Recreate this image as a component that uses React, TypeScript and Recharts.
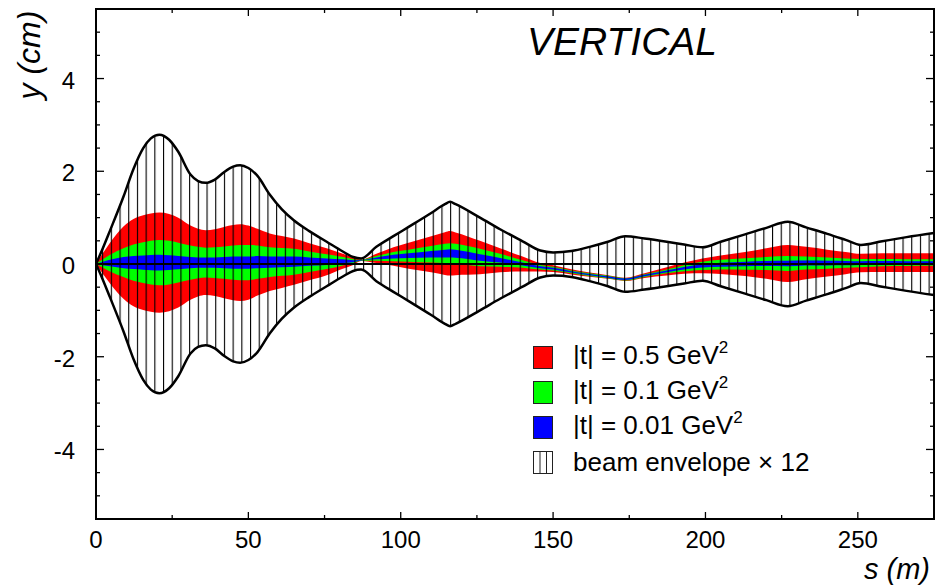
import React from "react";
import { AreaChart, Area, XAxis, YAxis, ReferenceLine, ReferenceArea, Legend, Customized } from "recharts";

const sPos = [
  0, 2, 4.6, 9, 12.3, 15.5, 18, 20.8, 24, 27, 31, 33.5, 36, 39, 42, 45, 47.3, 50, 53, 57,
  61, 65, 70, 75.7, 81, 84.4, 87, 92, 97.6, 102.6, 110, 114.5, 116.2, 118, 126, 132.6, 140,
  145.8, 150, 156, 162, 168, 173.7, 180, 187.3, 193, 199, 205, 213, 220, 227, 233, 240, 246,
  251, 258, 266, 275,
];

// beam envelope x 12, half width (cm)
const envelope = [
  0, 0.3, 0.72, 1.45, 2.05, 2.5, 2.71, 2.79, 2.68, 2.42, 1.93, 1.79, 1.75, 1.82, 1.98, 2.1, 2.13, 2.07, 1.9, 1.5,
  1.18, 0.94, 0.71, 0.48, 0.27, 0.15, 0.12, 0.37, 0.6, 0.8, 1.1, 1.29, 1.34, 1.29, 1.0, 0.75, 0.49,
  0.29, 0.25, 0.28, 0.37, 0.48, 0.6, 0.55, 0.48, 0.42, 0.36, 0.48, 0.64, 0.78, 0.91, 0.79, 0.65, 0.52,
  0.41, 0.49, 0.58, 0.67,
];

// centre of the |t| bands (cm)
const center = [
  0, 0.01, 0.02, 0.03, 0.03, 0.03, 0.03, 0.03, 0.03, 0.03, 0.03, 0.03, 0.03, 0.03, 0.03, 0.03, 0.03, 0.03, 0.04, 0.04,
  0.045, 0.05, 0.05, 0.05, 0.06, 0.06, 0.08, 0.12, 0.16, 0.18, 0.21, 0.225, 0.23, 0.22, 0.14, 0.08, 0.0,
  -0.07, -0.1, -0.17, -0.23, -0.28, -0.33, -0.25, -0.16, -0.09, -0.04, -0.015, 0.0, 0.01, 0.01, 0.02, 0.02, 0.02,
  0.02, 0.03, 0.03, 0.03,
];

// half widths (cm)
const redHalf = [
  0, 0.2, 0.44, 0.78, 0.94, 1.02, 1.06, 1.08, 1.05, 0.97, 0.8, 0.73, 0.7, 0.72, 0.77, 0.81, 0.83, 0.8, 0.72, 0.62,
  0.56, 0.5, 0.4, 0.29, 0.16, 0.08, 0.015, 0.1, 0.2, 0.28, 0.39, 0.46, 0.48, 0.46, 0.36, 0.26, 0.16,
  0.09, 0.075, 0.055, 0.045, 0.04, 0.035, 0.05, 0.09, 0.12, 0.16, 0.2, 0.26, 0.33, 0.4, 0.35, 0.29, 0.24,
  0.2, 0.2, 0.2, 0.2,
];
const greenHalf = [
  0, 0.08, 0.18, 0.31, 0.39, 0.44, 0.47, 0.49, 0.47, 0.43, 0.37, 0.34, 0.32, 0.33, 0.35, 0.37, 0.38, 0.38, 0.36, 0.32,
  0.3, 0.28, 0.22, 0.16, 0.09, 0.045, 0.01, 0.05, 0.1, 0.13, 0.18, 0.21, 0.22, 0.215, 0.19, 0.14, 0.08,
  0.05, 0.04, 0.03, 0.028, 0.026, 0.025, 0.028, 0.04, 0.065, 0.09, 0.105, 0.125, 0.14, 0.16, 0.14, 0.12, 0.1,
  0.09, 0.08, 0.075, 0.07,
];
const blueHalf = [
  0, 0.035, 0.07, 0.12, 0.14, 0.155, 0.165, 0.17, 0.16, 0.145, 0.12, 0.11, 0.11, 0.11, 0.12, 0.13, 0.13, 0.13, 0.13, 0.12,
  0.115, 0.11, 0.09, 0.07, 0.04, 0.02, 0.005, 0.02, 0.04, 0.05, 0.07, 0.085, 0.09, 0.085, 0.07, 0.05, 0.03,
  0.02, 0.018, 0.016, 0.015, 0.015, 0.015, 0.016, 0.02, 0.028, 0.036, 0.043, 0.05, 0.055, 0.06, 0.055, 0.05, 0.045,
  0.04, 0.035, 0.032, 0.03,
];

const xTicks = [0, 25, 50, 75, 100, 125, 150, 175, 200, 225, 250, 275];
const xLabels = [0, 50, 100, 150, 200, 250];
const yTicks = [-5, -4.5, -4, -3.5, -3, -2.5, -2, -1.5, -1, -0.5, 0, 0.5, 1, 1.5, 2, 2.5, 3, 3.5, 4, 4.5, 5];
const yLabels = [-4, -2, 0, 2, 4];

const legendItems = [
  { label: "|t| = 0.5 GeV", sup: "2", fill: "#ff0000" },
  { label: "|t| = 0.1 GeV", sup: "2", fill: "#00ff00" },
  { label: "|t| = 0.01 GeV", sup: "2", fill: "#0000ff" },
  { label: "beam envelope \u00d7 12", sup: "", fill: "hatch" },
];

const rows = sPos.map((s, i) => ({
  s,
  env: [-envelope[i], envelope[i]],
  red: [center[i] - redHalf[i], center[i] + redHalf[i]],
  green: [center[i] - greenHalf[i], center[i] + greenHalf[i]],
  blue: [center[i] - blueHalf[i], center[i] + blueHalf[i]],
}));

const FONT = "'Liberation Sans', Arial, Helvetica, sans-serif";
const TOP = 9;
const BOTTOM = 519;
const LEFT = 96;
const RIGHT = 934;

function XTick(props: any) {
  const { x, payload } = props;
  const major = xLabels.includes(payload.value);
  const len = major ? 7 : 4;
  return (
    <g>
      <line x1={x} x2={x} y1={BOTTOM} y2={BOTTOM - len} stroke="#000" strokeWidth={1.3} />
      <line x1={x} x2={x} y1={TOP} y2={TOP + len} stroke="#000" strokeWidth={1.3} />
      {major && (
        <text x={x} y={548} textAnchor="middle" fontSize={24} fontFamily={FONT} fill="#000">
          {payload.value}
        </text>
      )}
    </g>
  );
}

function YTick(props: any) {
  const { y, payload } = props;
  const major = yLabels.includes(payload.value);
  const len = major ? 8 : 4;
  return (
    <g>
      <line x1={LEFT} x2={LEFT + len} y1={y} y2={y} stroke="#000" strokeWidth={1.3} />
      <line x1={RIGHT} x2={RIGHT - len} y1={y} y2={y} stroke="#000" strokeWidth={1.3} />
      {major && (
        <text x={75} y={y + 10} textAnchor="end" fontSize={24} fontFamily={FONT} fill="#000">
          {payload.value}
        </text>
      )}
    </g>
  );
}

function LegendBox() {
  return (
    <div style={{ fontFamily: FONT, fontSize: 26, color: "#000" }}>
      {legendItems.map((it) => (
        <div key={it.label} style={{ display: "flex", alignItems: "center", height: 35 }}>
          {it.fill === "hatch" ? (
            <svg width={20} height={23} style={{ display: "block" }}>
              <rect x={0.5} y={0.5} width={19} height={22} fill="#fff" stroke="#222" />
              <line x1={7} x2={7} y1={0} y2={23} stroke="#222" />
              <line x1={13.5} x2={13.5} y1={0} y2={23} stroke="#222" />
            </svg>
          ) : (
            <div style={{ width: 20, height: 23, boxSizing: "border-box", border: "1px solid #222", background: it.fill }} />
          )}
          <span style={{ marginLeft: 20, lineHeight: "26px", whiteSpace: "nowrap" }}>
            {it.label}
            {it.sup && <span style={{ fontSize: 17, position: "relative", top: -11 }}>{it.sup}</span>}
          </span>
        </div>
      ))}
    </div>
  );
}

function Texts() {
  return (
    <g fontFamily={FONT} fill="#000" fontStyle="italic">
      <text x={717} y={55} textAnchor="end" fontSize={39}>VERTICAL</text>
      <text x={930} y={579} textAnchor="end" fontSize={29}>s (m)</text>
      <text transform="translate(40,55) rotate(-90)" textAnchor="middle" fontSize={32}>y (cm)</text>
    </g>
  );
}

export default function App() {
  return (
    <div style={{ position: "absolute", left: 0, top: 0, background: "#fff" }}>
      <AreaChart width={936} height={588} data={rows} margin={{ top: TOP, right: 936 - RIGHT, bottom: 588 - BOTTOM - 1, left: LEFT - 1 }}>
        <defs>
          <pattern id="hatch" patternUnits="userSpaceOnUse" x={6.4} y={0} width={8.7} height={20}>
            <line x1={0.5} x2={0.5} y1={0} y2={20} stroke="#000" strokeWidth={1.2} />
          </pattern>
        </defs>
        <XAxis dataKey="s" type="number" domain={[0, 275]} ticks={xTicks} interval={0} tick={XTick}
          tickLine={false} axisLine={false} height={1} allowDataOverflow />
        <YAxis type="number" domain={[-5.5, 5.5]} ticks={yTicks} interval={0} tick={YTick}
          tickLine={false} axisLine={false} width={1} allowDataOverflow />
        <Area dataKey="red" type="monotone" fill="#ff0000" fillOpacity={1} stroke="none" dot={false} activeDot={false} isAnimationActive={false} />
        <Area dataKey="green" type="monotone" fill="#00ff00" fillOpacity={1} stroke="none" dot={false} activeDot={false} isAnimationActive={false} />
        <Area dataKey="blue" type="monotone" fill="#0000ff" fillOpacity={1} stroke="none" dot={false} activeDot={false} isAnimationActive={false} />
        <Area dataKey="env" type="monotone" fill="url(#hatch)" fillOpacity={1} stroke="#000" strokeWidth={2.5} dot={false} activeDot={false} isAnimationActive={false} />
        <ReferenceLine y={0} stroke="#000" strokeWidth={2} />
        <ReferenceArea x1={0} x2={275} y1={-5.5} y2={5.5} fill="none" stroke="#000" strokeWidth={2} ifOverflow="visible" />
        <Legend layout="vertical" align="center" verticalAlign="middle" wrapperStyle={{ left: 533, top: 339.5, width: 340 }} content={() => <LegendBox />} />
        <Customized component={Texts} />
      </AreaChart>
    </div>
  );
}
